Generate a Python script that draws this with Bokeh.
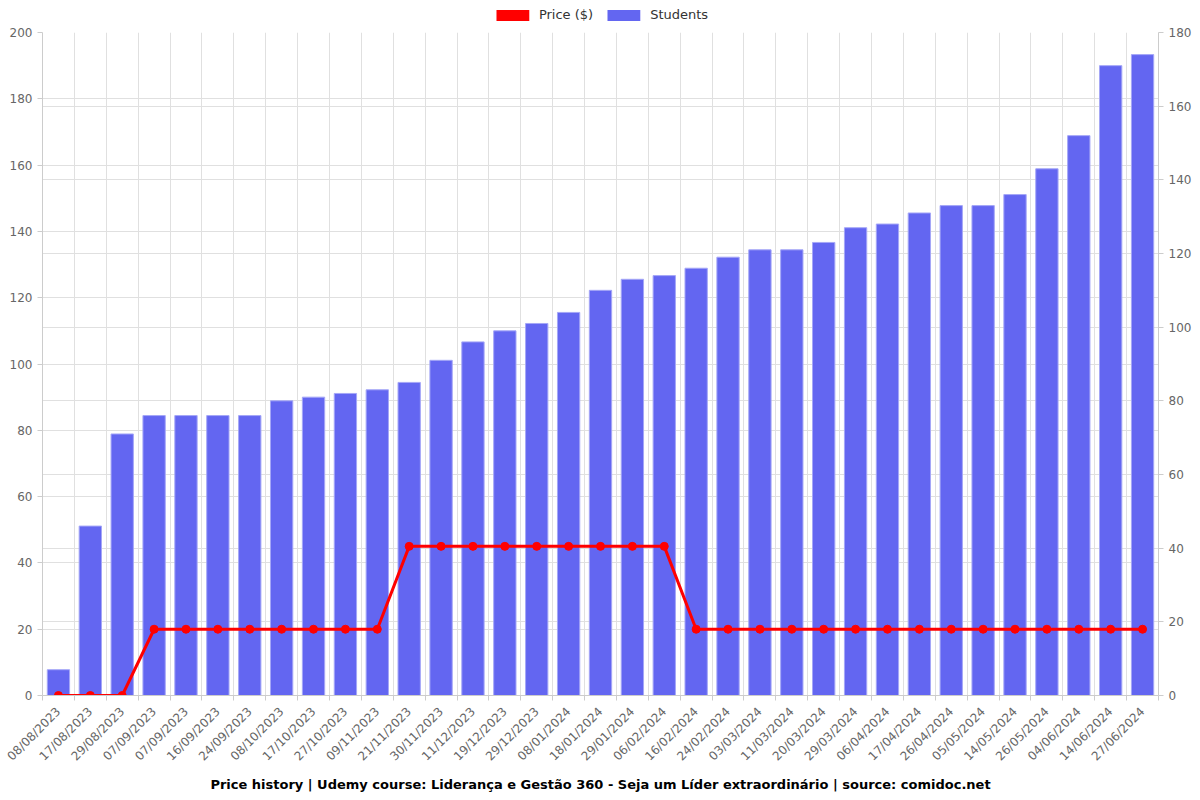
import numpy as np
from bokeh.plotting import figure
from bokeh.layouts import column
from bokeh.models import (Range1d, LinearAxis, FixedTicker, Grid, Legend, LegendItem,
                          Title, ColumnDataSource)
from bokeh.embed import file_html
from bokeh.resources import INLINE

dates = ["08/08/2023", "17/08/2023", "29/08/2023", "07/09/2023", "07/09/2023", "16/09/2023",
         "24/09/2023", "08/10/2023", "17/10/2023", "27/10/2023", "09/11/2023", "21/11/2023",
         "30/11/2023", "11/12/2023", "19/12/2023", "29/12/2023", "08/01/2024", "18/01/2024",
         "29/01/2024", "06/02/2024", "16/02/2024", "24/02/2024", "03/03/2024", "11/03/2024",
         "20/03/2024", "29/03/2024", "06/04/2024", "17/04/2024", "26/04/2024", "05/05/2024",
         "14/05/2024", "26/05/2024", "04/06/2024", "14/06/2024", "27/06/2024"]
price = [0, 0, 0, 19.99, 19.99, 19.99, 19.99, 19.99, 19.99, 19.99, 19.99,
         44.99, 44.99, 44.99, 44.99, 44.99, 44.99, 44.99, 44.99, 44.99,
         19.99, 19.99, 19.99, 19.99, 19.99, 19.99, 19.99, 19.99, 19.99, 19.99,
         19.99, 19.99, 19.99, 19.99, 19.99]
students = [7, 46, 71, 76, 76, 76, 76, 80, 81, 82, 83, 85, 91, 96, 99, 101, 104, 110,
            113, 114, 116, 119, 121, 121, 123, 127, 128, 131, 133, 133, 136, 143, 152, 171, 174]
price_ticks = list(range(0, 201, 20))
student_ticks = list(range(0, 181, 20))

FONT = "DejaVu Sans"
RED = "#ff0000"
BAR = "#6366f1"
BAR_EDGE = "#a5a7f7"
GRID = "#e0e0e0"
AXIS = "#cccccc"
LABEL = "#666666"

n = len(dates)
xs = [i + 0.5 for i in range(n)]
src = ColumnDataSource(dict(x=xs, price=price, students=students, date=dates))

# ---------- legend strip ----------
lf = figure(width=1200, height=26, output_backend="svg", toolbar_location=None,
            x_range=Range1d(0, n), y_range=Range1d(0, 200),
            min_border_left=0, min_border_right=0, min_border_top=0, min_border_bottom=0,
            x_axis_type=None, y_axis_type=None)
lf.outline_line_color = None
lf.xgrid.visible = False
lf.ygrid.visible = False
sw_price = lf.vbar(x="x", top="price", width=0, source=src, fill_color=RED, line_color=None)
sw_students = lf.vbar(x="x", top="students", width=0, source=src, fill_color=BAR,
                      line_color=None)
legend = Legend(items=[LegendItem(label="Price ($)", renderers=[sw_price]),
                       LegendItem(label="Students", renderers=[sw_students])],
                orientation="horizontal", location="bottom_center",
                glyph_width=41, glyph_height=14, label_standoff=6, spacing=10,
                label_text_font=FONT, label_text_font_size="13px", label_text_color="#333333",
                margin=4, padding=0, border_line_color=None, background_fill_alpha=0,
                label_height=14)
lf.add_layout(legend, "center")

# ---------- main chart ----------
p = figure(width=1200, height=774, output_backend="svg", toolbar_location=None,
           x_range=Range1d(0, n), y_range=Range1d(0, 200),
           min_border_left=42, min_border_right=42, min_border_top=6, min_border_bottom=105)
p.extra_y_ranges = {"students": Range1d(0, 180)}
p.outline_line_color = None
p.background_fill_color = "white"

p.xgrid.ticker = FixedTicker(ticks=list(range(n + 1)))
p.xgrid.grid_line_color = GRID
p.ygrid.ticker = FixedTicker(ticks=price_ticks)
p.ygrid.grid_line_color = GRID
p.add_layout(Grid(dimension=1, y_range_name="students", ticker=FixedTicker(ticks=student_ticks),
                  grid_line_color=GRID))

xa = p.xaxis[0]
xa.ticker = FixedTicker(ticks=xs, minor_ticks=list(range(n + 1)))
xa.major_label_overrides = {x: d for x, d in zip(xs, dates)}
xa.major_label_orientation = np.pi / 4
xa.major_tick_line_color = None
xa.minor_tick_line_color = AXIS
xa.minor_tick_in = 0
xa.minor_tick_out = 5
xa.axis_line_color = AXIS
xa.major_label_text_color = LABEL
xa.major_label_text_font = FONT
xa.major_label_text_font_size = "12px"
xa.major_label_standoff = 8

ya = p.yaxis[0]
ya.ticker = FixedTicker(ticks=price_ticks)
ya.minor_tick_line_color = None
ya.major_tick_in = 0
ya.major_tick_out = 5
ya.major_tick_line_color = AXIS
ya.axis_line_color = AXIS
ya.major_label_text_color = LABEL
ya.major_label_text_font = FONT
ya.major_label_text_font_size = "12px"

ra = LinearAxis(y_range_name="students", ticker=FixedTicker(ticks=student_ticks))
ra.minor_tick_line_color = None
ra.major_tick_in = 0
ra.major_tick_out = 5
ra.major_tick_line_color = AXIS
ra.axis_line_color = AXIS
ra.major_label_text_color = LABEL
ra.major_label_text_font = FONT
ra.major_label_text_font_size = "12px"
p.add_layout(ra, "right")

p.vbar(x="x", top="students", width=0.7, source=src, y_range_name="students",
       fill_color=BAR, line_color=BAR_EDGE, line_width=1)
p.line(x="x", y="price", source=src, line_color=RED, line_width=3)
p.scatter(x="x", y="price", source=src, size=8, fill_color=RED, line_color=RED)

title = Title(text="Price history | Udemy course: Liderança e Gestão 360 - Seja um Líder extraordinário | source: comidoc.net",
              align="center", text_font=FONT, text_font_size="13px", text_font_style="bold",
              text_color="#000000", standoff=6)
p.add_layout(title, "below")

layout = column(lf, p, spacing=0)
open("out.html", "w").write(file_html(layout, INLINE))
